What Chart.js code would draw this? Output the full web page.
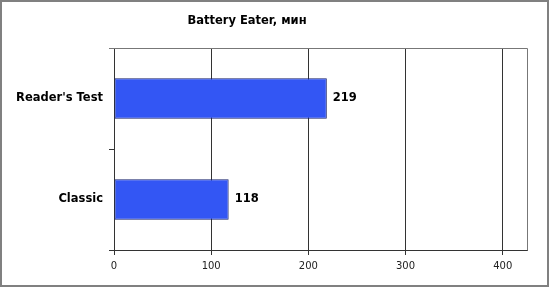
<!DOCTYPE html>
<html>
<head>
<meta charset="utf-8">
<script src="https://cdn.jsdelivr.net/npm/chart.js@4.4.1/dist/chart.umd.min.js"></script>
<style>
    html, body { margin: 0; padding: 0; background: #fff; }
    #wrap { width: 550px; height: 288px; position: relative; }
</style>
</head>
<body>
<div id="wrap"><canvas id="chart"></canvas></div>
<script>
// Данные графика
const chartTitle = 'Battery Eater, мин';
const categories = ["Reader's Test", 'Classic'];
const minutes = [219, 118];
const xTicks = [0, 100, 200, 300, 400];
const xMax = 425;

const FONT = 'DejaVu Sans, Verdana, sans-serif';

// Рамка, заголовок и подписи значений
const decorPlugin = {
    id: 'decor',
    beforeDraw(chart) {
        const ctx = chart.ctx;
        ctx.save();
        ctx.fillStyle = '#fff';
        ctx.fillRect(0, 0, chart.width, chart.height);
        ctx.restore();
    },
    afterDatasetsDraw(chart) {
        const ctx = chart.ctx;
        const meta = chart.getDatasetMeta(0);
        ctx.save();
        ctx.font = 'bold 11.5px ' + FONT;
        ctx.fillStyle = '#000';
        ctx.textAlign = 'left';
        ctx.textBaseline = 'middle';
        meta.data.forEach((bar, i) => {
            ctx.fillText(String(minutes[i]), bar.x + 6, bar.y);
        });
        ctx.restore();
    },
    afterDraw(chart) {
        const ctx = chart.ctx;
        const a = chart.chartArea;
        ctx.save();
        // верх и правая граница области построения
        ctx.strokeStyle = '#777';
        ctx.lineWidth = 1;
        ctx.beginPath();
        ctx.moveTo(a.left - 5, Math.round(a.top) + 0.5);
        ctx.lineTo(Math.round(a.right) + 0.5, Math.round(a.top) + 0.5);
        ctx.lineTo(Math.round(a.right) + 0.5, Math.round(a.bottom) + 0.5);
        ctx.stroke();
        // внешняя рамка
        ctx.strokeStyle = '#808080';
        ctx.lineWidth = 2;
        ctx.strokeRect(1, 1, chart.width - 3, chart.height - 3);
        // заголовок
        ctx.font = 'bold 11.5px ' + FONT;
        ctx.fillStyle = '#000';
        ctx.textAlign = 'center';
        ctx.textBaseline = 'middle';
        ctx.fillText(chartTitle, 247, 21);
        ctx.restore();
    }
};

new Chart(document.getElementById('chart'), {
    type: 'bar',
    data: {
        labels: categories,
        datasets: [{
            data: minutes,
            backgroundColor: '#3356f4',
            borderColor: '#16206a',
            borderWidth: 1,
            borderSkipped: false,
            barPercentage: 0.4,
            categoryPercentage: 1.0
        }]
    },
    options: {
        indexAxis: 'y',
        responsive: true,
        maintainAspectRatio: false,
        animation: false,
        layout: { padding: { top: 48, right: 23, left: 0, bottom: 0 } },
        plugins: {
            legend: { display: false },
            title: { display: false },
            tooltip: { enabled: false }
        },
        scales: {
            x: {
                min: 0,
                max: xMax,
                afterBuildTicks(scale) {
                    scale.ticks = xTicks.map(v => ({ value: v }));
                },
                afterFit(scale) { scale.height = 38; },
                grid: {
                    color: '#333',
                    lineWidth: 1,
                    drawTicks: true,
                    tickLength: 5
                },
                border: { color: '#333', width: 1 },
                ticks: {
                    color: '#222',
                    font: { family: FONT, size: 10 },
                    padding: 5,
                    maxRotation: 0
                }
            },
            y: {
                afterFit(scale) { scale.width = 114; },
                grid: {
                    drawOnChartArea: false,
                    drawTicks: true,
                    tickLength: 5,
                    offset: true,
                    color: '#333'
                },
                border: { color: '#333', width: 1 },
                ticks: {
                    color: '#000',
                    font: { family: FONT, size: 11.5, weight: 'bold' },
                    padding: 6
                }
            }
        }
    },
    plugins: [decorPlugin]
});
</script>
</body>
</html>
